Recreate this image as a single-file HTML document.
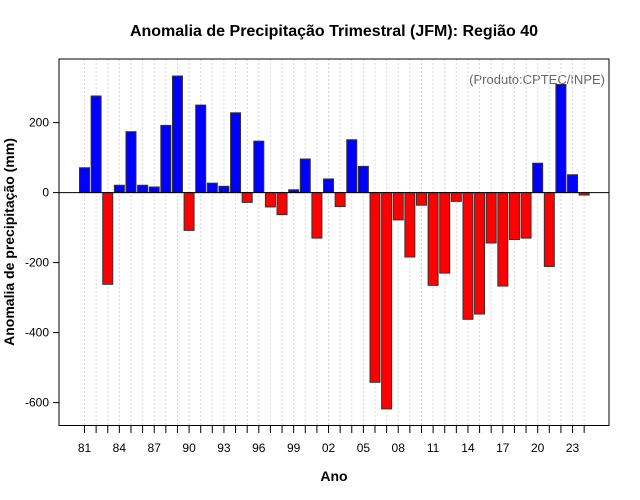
<!DOCTYPE html>
<html><head><meta charset="utf-8"><style>
body{margin:0;background:#fff;}
svg{display:block;font-family:"Liberation Sans",sans-serif;}
</style></head><body>
<svg id="chart" width="640" height="500">
<text x="334" y="36" text-anchor="middle" font-size="16" font-weight="bold">Anomalia de Precipitação Trimestral (JFM): Região 40</text>
<text x="334" y="481" text-anchor="middle" font-size="14" font-weight="bold">Ano</text>
<text transform="translate(14,242) rotate(-90)" text-anchor="middle" font-size="14" font-weight="bold">Anomalia de precipitação (mm)</text>
<text x="605" y="84" text-anchor="end" font-size="13" fill="#666">(Produto:CPTEC/INPE)</text>
<g id="grid"></g><g id="bars"></g><g id="axes"></g>
<rect x="59" y="59" width="550" height="366.5" fill="none" stroke="#000" stroke-width="1"/>
</svg>
<script>
const years=[1981,1982,1983,1984,1985,1986,1987,1988,1989,1990,1991,1992,1993,1994,1995,1996,1997,1998,1999,2000,2001,2002,2003,2004,2005,2006,2007,2008,2009,2010,2011,2012,2013,2014,2015,2016,2017,2018,2019,2020,2021,2022,2023,2024];
const anomalies=[71,276,-262,21,174,21,16,192,333,-108,250,27,18,228,-28,147,-41,-63,8,96,-130,39,-40,151,75,-542,-618,-78,-184,-36,-265,-230,-25,-362,-347,-144,-267,-134,-130,84,-211,309,51,-7];
const yTicks=[200,0,-200,-400,-600];
const ns="http://www.w3.org/2000/svg";
function xS(y){return 84.5+(y-1981)*11.62;}
function yS(v){return 192.6-v*0.35;}
function mk(tag,attrs,parent){const e=document.createElementNS(ns,tag);for(const k in attrs)e.setAttribute(k,attrs[k]);parent.appendChild(e);return e;}
const grid=document.getElementById('grid'),bars=document.getElementById('bars'),axes=document.getElementById('axes');
years.forEach((yr,i)=>{
  const x=xS(yr);
  const gl=mk('line',{x1:x,x2:x,y1:59,y2:425,stroke:'#d8d8d8','stroke-dasharray':'2,2'},grid);
  
  
  const v=anomalies[i];
  const r=mk('rect',{x:x-5,y:Math.min(yS(v),yS(0)),width:10,height:Math.abs(yS(v)-yS(0)),fill:v>=0?'#0000ff':'#ff0000',stroke:'#333','stroke-width':1},bars);
  
  
  const t=mk('line',{x1:x,x2:x,y1:425.5,y2:433,stroke:'#000'},axes);
  
  
  if((yr-1981)%3===0){
    const lb=mk('text',{x:x,y:452,'text-anchor':'middle','font-size':12},axes);
    lb.textContent=String(yr%100).padStart(2,'0');
    
    
  }
});
const zl=mk('line',{x1:59,x2:609,y1:yS(0),y2:yS(0),stroke:'#000'},axes);


const al=mk('line',{x1:59,x2:59,y1:yS(200),y2:yS(-600),stroke:'#000'},axes);


yTicks.forEach(v=>{
  const t=mk('line',{x1:53,x2:59,y1:yS(v),y2:yS(v),stroke:'#000'},axes);
  
  
  const lb=mk('text',{x:49,y:yS(v)+4,'text-anchor':'end','font-size':12},axes);
  lb.textContent=String(v);
  
  
});
</script>
</body></html>
